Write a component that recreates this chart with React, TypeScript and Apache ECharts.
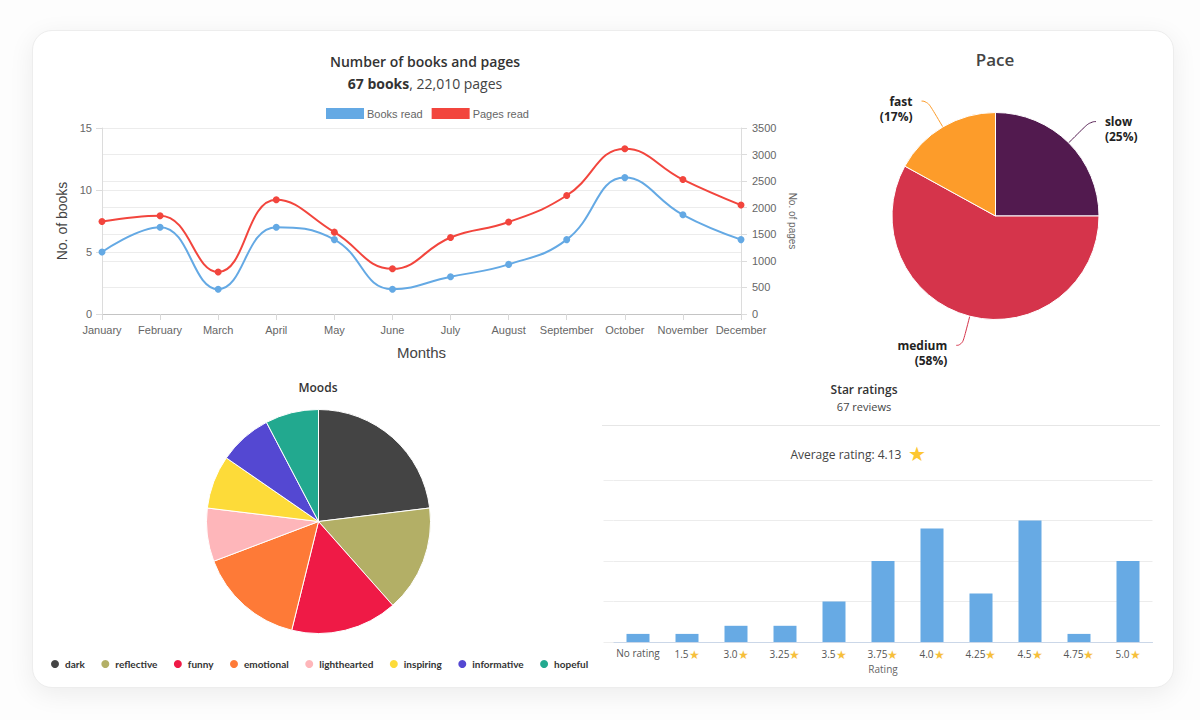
import React, { useEffect, useRef } from "react";
import * as echarts from "echarts";

// ---- Reading stats data ----
const months = [
  "January", "February", "March", "April", "May", "June",
  "July", "August", "September", "October", "November", "December",
];
const booksRead = [5, 7, 2, 7, 6, 2, 3, 4, 6, 11, 8, 6];
const pagesRead = [1740, 1850, 790, 2150, 1540, 850, 1440, 1730, 2230, 3110, 2530, 2050];
const totalBooks = 67;
const totalPages = 22010;

const paceNames = ["slow", "medium", "fast"];
const pacePercent = [25, 58, 17];
const paceColors = ["#521a4f", "#d5344b", "#fd9c2a"];

const moodNames = [
  "dark", "reflective", "funny", "emotional",
  "lighthearted", "inspiring", "informative", "hopeful",
];
const moodCounts = [3, 2, 2, 2, 1, 1, 1, 1];
const moodColors = [
  "#444444", "#b3af66", "#ef1a46", "#fe7a37",
  "#feb6ba", "#fddb39", "#5448d2", "#22a98f",
];

const ratingLabels = [
  "No rating", "1.5", "3.0", "3.25", "3.5", "3.75",
  "4.0", "4.25", "4.5", "4.75", "5.0",
];
const ratingCounts = [1, 1, 2, 2, 5, 10, 14, 6, 15, 1, 10];
const totalReviews = 67;
const averageRating = 4.13;

const BLUE = "#64a9e4";
const RED = "#f2453d";
const SANS = "'Liberation Sans', Arial, sans-serif";
const OPEN = "'Open Sans', 'Noto Sans', sans-serif";
const LATO = "Lato, 'Open Sans', sans-serif";

function buildOption(): echarts.EChartsOption {
  const axisText = { color: "#666", fontSize: 11, fontFamily: SANS };
  return {
    animation: false,
    textStyle: { fontFamily: OPEN },
    legend: [
      {
        data: ["Books read", "Pages read"],
        left: 326,
        top: 108,
        padding: 0,
        icon: "rect",
        itemWidth: 38,
        itemHeight: 11,
        itemGap: 9,
        textStyle: { ...axisText, padding: [0, 0, 0, -2] },
      },
      {
        data: moodNames,
        left: 49,
        top: 658,
        padding: 0,
        icon: "circle",
        itemWidth: 10,
        itemHeight: 10,
        itemGap: 14.5,
        textStyle: { color: "#333", fontSize: 10, fontWeight: "bold", fontFamily: LATO },
      },
    ],
    grid: [
      { left: 102, top: 128, width: 639, height: 186 },
      { left: 613.5, top: 480, width: 539, height: 162 },
    ],
    xAxis: [
      {
        gridIndex: 0,
        type: "category",
        data: months,
        boundaryGap: false,
        name: "Months",
        nameLocation: "middle",
        nameGap: 31,
        nameTextStyle: { color: "#444", fontSize: 15, fontFamily: SANS },
        axisLine: { lineStyle: { color: "#c4c4c4" } },
        axisTick: { show: true, length: 6, interval: 0, lineStyle: { color: "#d8d8d8" } },
        axisLabel: { ...axisText, margin: 10, interval: 0 },
        splitLine: { show: false },
      },
      {
        gridIndex: 1,
        type: "category",
        data: ratingLabels,
        name: "Rating",
        nameLocation: "middle",
        nameGap: 22,
        nameTextStyle: { color: "#666", fontSize: 10 },
        axisLine: { lineStyle: { color: "#cbd7e8" } },
        axisTick: { show: false },
        axisLabel: {
          margin: 6,
          fontSize: 10,
          color: "#555",
          interval: 0,
          formatter: (v: string) => (v === "No rating" ? v : `${v}{s|★}`),
          rich: { s: { color: "#f6bf3c", fontSize: 12 } },
        },
      },
    ],
    yAxis: [
      {
        gridIndex: 0,
        type: "value",
        min: 0,
        max: 15,
        interval: 5,
        name: "No. of books",
        nameLocation: "middle",
        nameRotate: 90,
        nameGap: 32,
        nameTextStyle: { color: "#444", fontSize: 14, fontFamily: SANS },
        axisLine: { show: true, lineStyle: { color: "#dcdcdc" } },
        axisTick: { show: true, length: 6, lineStyle: { color: "#dcdcdc" } },
        axisLabel: { ...axisText, margin: 10 },
        splitLine: { lineStyle: { color: "#ececec" } },
      },
      {
        gridIndex: 0,
        type: "value",
        position: "right",
        min: 0,
        max: 3500,
        interval: 500,
        name: "No. of pages",
        nameLocation: "middle",
        nameRotate: -90,
        nameGap: 39,
        nameTextStyle: { color: "#666", fontSize: 10, fontFamily: SANS },
        axisLine: { show: true, lineStyle: { color: "#dcdcdc" } },
        axisTick: { show: true, length: 6, lineStyle: { color: "#dcdcdc" } },
        axisLabel: { ...axisText, margin: 11, formatter: (v: number) => String(v) },
        splitLine: { lineStyle: { color: "#ececec" } },
      },
      {
        gridIndex: 1,
        type: "value",
        min: 0,
        max: 20,
        interval: 5,
        axisLine: { show: false },
        axisTick: { show: true, length: 10, lineStyle: { color: "#eeeeee" } },
        axisLabel: { show: false },
        splitLine: { lineStyle: { color: "#ececec" } },
      },
    ],
    series: [
      {
        name: "Books read",
        type: "line",
        xAxisIndex: 0,
        yAxisIndex: 0,
        data: booksRead,
        smooth: 0.45,
        symbol: "circle",
        symbolSize: 7,
        color: BLUE,
        lineStyle: { width: 2, color: BLUE },
        itemStyle: { color: BLUE },
      },
      {
        name: "Pages read",
        type: "line",
        xAxisIndex: 0,
        yAxisIndex: 1,
        data: pagesRead,
        smooth: 0.45,
        symbol: "circle",
        symbolSize: 7,
        color: RED,
        lineStyle: { width: 2, color: RED },
        itemStyle: { color: RED },
      },
      {
        name: "Pace",
        type: "pie",
        center: [995.5, 216],
        radius: 103.5,
        startAngle: 90,
        clockwise: true,
        data: paceNames.map((n, i) => ({
          name: n,
          value: pacePercent[i],
          itemStyle: { color: paceColors[i] },
        })),
        itemStyle: { borderColor: "#fff", borderWidth: 1 },
        label: {
          position: "outside",
          // blank first line drops the name/percent block just below the leader line end
          formatter: (p: any) => `{e|}\n${p.name}\n(${p.value}%)`,
          color: "#222",
          fontSize: 12,
          fontWeight: "bold",
          lineHeight: 15,
          fontFamily: OPEN,
          distanceToLabelLine: 9,
          rich: { e: { fontSize: 12, lineHeight: 15 } },
        },
        labelLine: { length: 30, length2: 6, smooth: 0.6, lineStyle: { width: 1 } },
      },
      {
        name: "Moods",
        type: "pie",
        center: [318.5, 521.5],
        radius: 112,
        startAngle: 90,
        clockwise: true,
        data: moodNames.map((n, i) => ({
          name: n,
          value: moodCounts[i],
          itemStyle: { color: moodColors[i] },
        })),
        itemStyle: { borderColor: "#fff", borderWidth: 1 },
        label: { show: false },
        labelLine: { show: false },
      },
      {
        name: "Star ratings",
        type: "bar",
        xAxisIndex: 1,
        yAxisIndex: 2,
        data: ratingCounts,
        barWidth: 23,
        itemStyle: { color: "#67aae4" },
      },
    ],
    graphic: [
      {
        type: "text",
        x: 425,
        y: 61,
        style: {
          text: "Number of books and pages",
          font: `600 14px ${OPEN}`,
          fill: "#333",
          align: "center",
          verticalAlign: "middle",
        },
      },
      {
        type: "text",
        x: 425,
        y: 83,
        style: {
          text: `{b|${totalBooks} books}{n|, ${totalPages.toLocaleString("en-US")} pages}`,
          align: "center",
          verticalAlign: "middle",
          rich: {
            b: { font: `700 14px ${OPEN}`, fill: "#333" },
            n: { font: `400 14px ${OPEN}`, fill: "#444" },
          },
        },
      },
      {
        type: "text",
        x: 995,
        y: 59,
        style: {
          text: "Pace",
          font: `600 17px ${OPEN}`,
          fill: "#444",
          align: "center",
          verticalAlign: "middle",
        },
      },
      {
        type: "text",
        x: 318,
        y: 387,
        style: {
          text: "Moods",
          font: `600 12px ${OPEN}`,
          fill: "#333",
          align: "center",
          verticalAlign: "middle",
        },
      },
      {
        type: "text",
        x: 864,
        y: 389,
        style: {
          text: "Star ratings",
          font: `600 12px ${OPEN}`,
          fill: "#333",
          align: "center",
          verticalAlign: "middle",
        },
      },
      {
        type: "text",
        x: 864,
        y: 406,
        style: {
          text: `${totalReviews} reviews`,
          font: `400 11px ${OPEN}`,
          fill: "#444",
          align: "center",
          verticalAlign: "middle",
        },
      },
      {
        type: "line",
        shape: { x1: 602, y1: 425.5, x2: 1160, y2: 425.5 },
        style: { stroke: "#e6e6e6", lineWidth: 1 },
      },
      {
        type: "text",
        x: 858,
        y: 454,
        style: {
          text: `Average rating: ${averageRating.toFixed(2)}  {s|★}`,
          font: `400 12px ${OPEN}`,
          fill: "#444",
          align: "center",
          verticalAlign: "middle",
          rich: { s: { fill: "#fdc731", fontSize: 20, font: `400 20px 'DejaVu Sans'` } },
        },
      },
    ],
  };
}

export default function App() {
  const ref = useRef<HTMLDivElement>(null);

  useEffect(() => {
    if (!ref.current) return;
    const chart = echarts.init(ref.current, null, { renderer: "svg" });
    chart.setOption(buildOption());
    return () => chart.dispose();
  }, []);

  return (
    <div
      style={{
        position: "fixed",
        left: 0,
        top: 0,
        width: 1200,
        height: 720,
        background: "#fdfdfd",
        overflow: "hidden",
      }}
    >
      <div
        style={{
          position: "absolute",
          left: 32,
          top: 30,
          width: 1142,
          height: 658,
          borderRadius: 20,
          background: "#fff",
          border: "1px solid #ededed",
          boxSizing: "border-box",
          boxShadow: "0 6px 26px rgba(0,0,0,0.07)",
        }}
      />
      <div ref={ref} style={{ position: "absolute", left: 0, top: 0, width: 1200, height: 720 }} />
    </div>
  );
}
